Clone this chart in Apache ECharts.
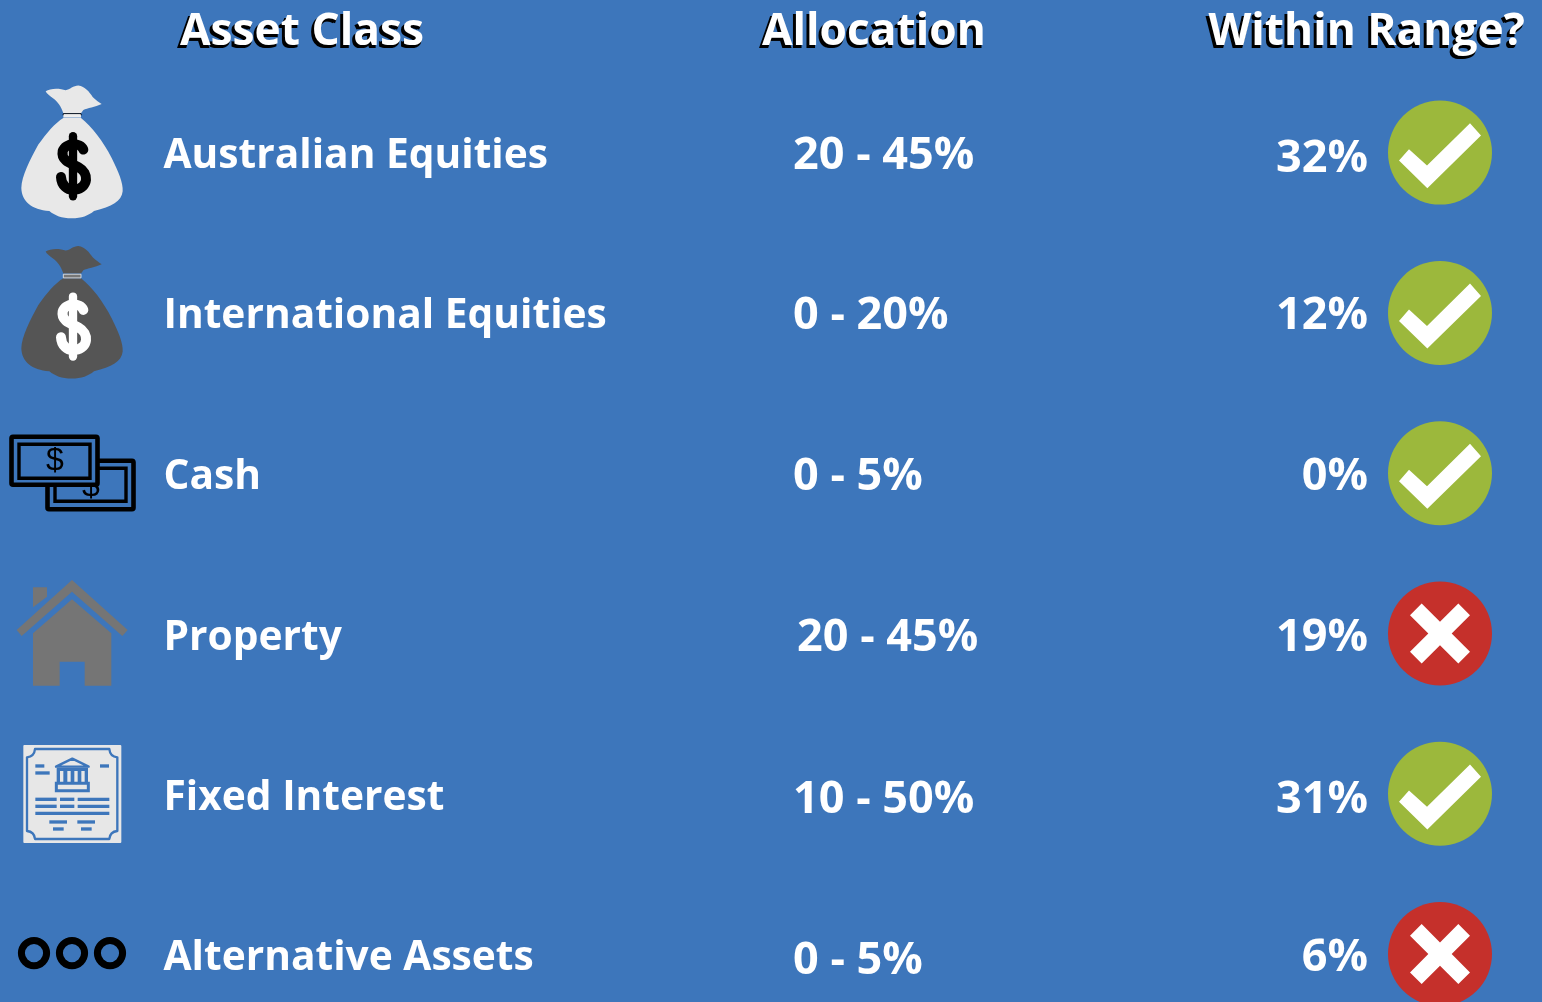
<!DOCTYPE html>
<html><head><meta charset="utf-8">
<style>html,body{margin:0;padding:0;background:#3d76bb;overflow:hidden}#c{width:1542px;height:1002px}</style>
<script src="https://cdn.jsdelivr.net/npm/echarts@6/dist/echarts.min.js"></script>
</head><body><div id="c"></div>
<script>
// ---------- data ----------
var headers = ['Asset Class', 'Allocation', 'Within Range?'];
var assetClasses = ['Australian Equities', 'International Equities', 'Cash', 'Property', 'Fixed Interest', 'Alternative Assets'];
var allocationLow = [20, 0, 0, 20, 10, 0];
var allocationHigh = [45, 20, 5, 45, 50, 5];
var actualAllocation = [32, 12, 0, 19, 31, 6];

// ---------- layout & style (not data) ----------
var W = 1542, H = 1002;
var BG = '#3d76bb', GREEN = '#9cb83c', RED = '#c5302b', FONT = '"Open Sans", "Noto Sans", sans-serif';
var headerX = [180, 762, 1208.5], headerY = 32;
var labelX = 163.5, rangeX = 793, actualX = 1368, badgeX = 1440;
var labelDy = [4, 4, 4, 5, 5, 4];
var rangeDy = [4, 3, 4, 5, 6, 7];
var rangeDx = [0, 0, 0, 4, 0, 0];
var actualDy = [7, 3, 4, 5, 6, 4];

function poly(d, fill) { return { type: 'path', silent: true, shape: { pathData: d }, style: { fill: fill } }; }
function line(d, stroke, w, cap) { return { type: 'path', silent: true, shape: { pathData: d }, style: { fill: 'none', stroke: stroke, lineWidth: w, lineCap: cap || 'butt', lineJoin: 'round' } }; }
function box(x, y, w, h, fill, stroke, lw, rr) { return { type: 'rect', silent: true, shape: { x: x, y: y, width: w, height: h, r: rr || 0 }, style: { fill: fill, stroke: stroke || 'none', lineWidth: lw || 0 } }; }
function zoomGroup(x, y, children) { return { type: 'group', x: x, y: y, scaleX: 1 / 3, scaleY: 1 / 3, children: children }; }

// icons are drawn on a 3x local grid around the row centre
var BAG_TUFT = 'M137,65 C150,55 180,55 197,62 C210,60 220,48 235,48 C255,50 268,68 278,82 C288,92 298,98 305,103 C285,112 262,115 250,121 L243,131 L190,131 C184,110 172,95 158,85 C148,78 140,72 137,65 Z';
var BAG_BODY = 'M190,145 L243,145 C275,170 310,215 335,265 C355,305 370,340 368,365 C365,395 335,412 282,424 C265,438 245,446 215,446 C185,446 165,438 148,424 C95,420 65,395 64,355 C65,320 90,270 115,225 C140,190 165,160 190,145 Z';
var DOLLAR_S = 'M250,240 C242,218 196,218 188,245 C182,275 218,283 236,293 C268,310 266,354 226,360 C200,364 184,345 183,322';
var DOLLAR_BAR = 'M219,200 L219,380';

function bagIcon(cy, bodyColor, signColor, dark) {
  return zoomGroup(0, cy - 83, [
    poly(BAG_TUFT, bodyColor),
    poly(BAG_BODY, bodyColor),
    dark ? box(190, 133, 53, 11, '#777777', '#e8e8e8', 2.5) : box(190, 133, 53, 11, '#ededed', null, 0),
    dark ? box(190, 131, 0, 0, 'none') : line('M189,137 L190,132 L243,132 L244,137', '#000000', 2.5),
    line(DOLLAR_BAR, signColor, 25, 'round'),
    line(DOLLAR_S, signColor, 30, 'round')
  ]);
}
function dollarText(x, y) {
  return { type: 'text', silent: true, x: x, y: y, style: { text: '$', fill: '#000', fontSize: 32, fontFamily: '"Liberation Sans", sans-serif', align: 'center', verticalAlign: 'middle' } };
}
function cashIcon(cy) {
  return { type: 'group', x: 0, y: cy - 473, children: [
    box(47.5, 460.5, 86, 48.5, BG, '#000', 4.6, 1.5),
    box(55, 468, 71, 33, BG, '#000', 3.4),
    dollarText(91, 487),
    box(11.5, 436.5, 86, 48, BG, '#000', 4.6, 1.5),
    box(19, 444, 71, 34, BG, '#000', 3.4),
    dollarText(55, 461)
  ] };
}
function houseIcon(cy) {
  var c = '#757575';
  return zoomGroup(0, cy - 213.5, [
    poly('M216,480 L383,630 L367,648 L216,515 L65,648 L50,630 Z', c),
    poly('M99,502 L141,502 L141,530 L99,562 Z', c),
    poly('M216,538 L334,640 L334,797 L254,797 L254,725 L179,725 L179,797 L99,797 L99,640 Z', c)
  ]);
}
function bondIcon(cy) {
  var b = BG, l = '#e7e7e7', kids = [
    box(70, 45, 294, 294, l, null, 0, 3),
    line('M105,57 L328,57 Q330,80 352,82 L352,303 Q330,305 328,327 L105,327 Q103,305 81,303 L81,82 Q103,80 105,57 Z', b, 7),
    line('M168,110 L217,86 L266,110 Z', b, 7),
    box(170, 113, 94, 46, b),
    box(180, 123, 10, 34, l), box(202, 123, 10, 34, l), box(223, 123, 10, 34, l), box(244, 123, 10, 34, l),
    box(169, 160, 96, 22, l, b, 9)
  ];
  [[106,103,27],[106,124,43],[300,103,27],[106,203,64],[180,203,43],[233,203,95],[106,224,64],[180,224,43],[233,224,95],[106,245,222],[148,271,53],[232,271,53],[159,292,32],[243,292,32]]
    .forEach(function (a) { kids.push(box(a[0], a[1], a[2], 10, b)); });
  return zoomGroup(0, cy - 63.8, kids);
}
function ringsIcon(cy) {
  return { type: 'group', x: 0, y: cy, children: [34, 72, 110].map(function (x) {
    return { type: 'circle', silent: true, shape: { cx: x, cy: -1, r: 12.6 }, style: { fill: 'none', stroke: '#000', lineWidth: 7 } };
  }) };
}
var icons = [
  function (cy) { return bagIcon(cy, '#e8e8e8', '#000000', false); },
  function (cy) { return bagIcon(cy, '#555555', '#ffffff', true); },
  cashIcon, houseIcon, bondIcon, ringsIcon
];

var CHECK = 'M90,-88 L123,-51 L-38,107 L-123,24 L-93,-10 L-39,39 Z';
var CROSS = 'M-55,-90 L0,-35 L55,-90 L90,-55 L35,0 L90,55 L55,90 L0,35 L-55,90 L-90,55 L-35,0 L-90,-55 Z';

function txt(x, y, s, size, weight, fill, align) {
  return { type: 'text', silent: true, x: x, y: y, style: { text: s, fill: fill, fontSize: size, fontWeight: weight, fontFamily: FONT, align: align || 'left', verticalAlign: 'middle' } };
}

function renderRow(params, api) {
  var i = params.dataIndex, cy = api.coord([0, i])[1];
  var ok = actualAllocation[i] >= allocationLow[i] && actualAllocation[i] <= allocationHigh[i];
  return { type: 'group', children: [
    icons[i](cy),
    txt(api.coord([labelX, i])[0], cy + labelDy[i], assetClasses[i], 40.7, 700, '#fff'),
    txt(api.coord([rangeX + rangeDx[i], i])[0], cy + rangeDy[i], allocationLow[i] + ' - ' + allocationHigh[i] + '%', 45, 700, '#fff'),
    txt(api.coord([actualX, i])[0], cy + actualDy[i], api.value(0) + '%', 45, 700, '#fff', 'right'),
    { type: 'circle', silent: true, shape: { cx: api.coord([badgeX, i])[0], cy: cy, r: 52 }, style: { fill: ok ? GREEN : RED } },
    zoomGroup(api.coord([badgeX, i])[0], cy, [poly(ok ? CHECK : CROSS, '#fff')])
  ] };
}
function renderHeader(params, api) {
  var i = params.dataIndex, x = api.coord([headerX[i], 0])[0];
  var t = txt(x, headerY, headers[i], 44.3, 700, '#000');
  var t2 = txt(x + 2, headerY, headers[i], 44.3, 700, '#000');
  var shadow = { type: 'group', x: -3, y: 3, children: [t, t2] };
  return { type: 'group', children: [shadow, txt(x, headerY, headers[i], 44.3, 700, '#fff')] };
}

var chart = echarts.init(document.getElementById('c'), null, { renderer: 'canvas', width: W, height: H });
chart.setOption({
  backgroundColor: BG,
  animation: false,
  tooltip: { show: false },
  grid: { left: 0, top: 0, width: W, height: H },
  xAxis: { type: 'value', min: 0, max: W, show: false },
  yAxis: { type: 'value', inverse: true, min: -0.952, max: 5.299, show: false },
  series: [
    { type: 'custom', clip: false, silent: true, renderItem: renderHeader, data: headers.map(function (h, i) { return [i, 0]; }), encode: { x: 0, y: 1 } },
    { type: 'custom', clip: false, silent: true, renderItem: renderRow, data: actualAllocation.map(function (v, i) { return [v, i]; }), encode: { x: 0, y: 1 } }
  ]
});
</script></body></html>
